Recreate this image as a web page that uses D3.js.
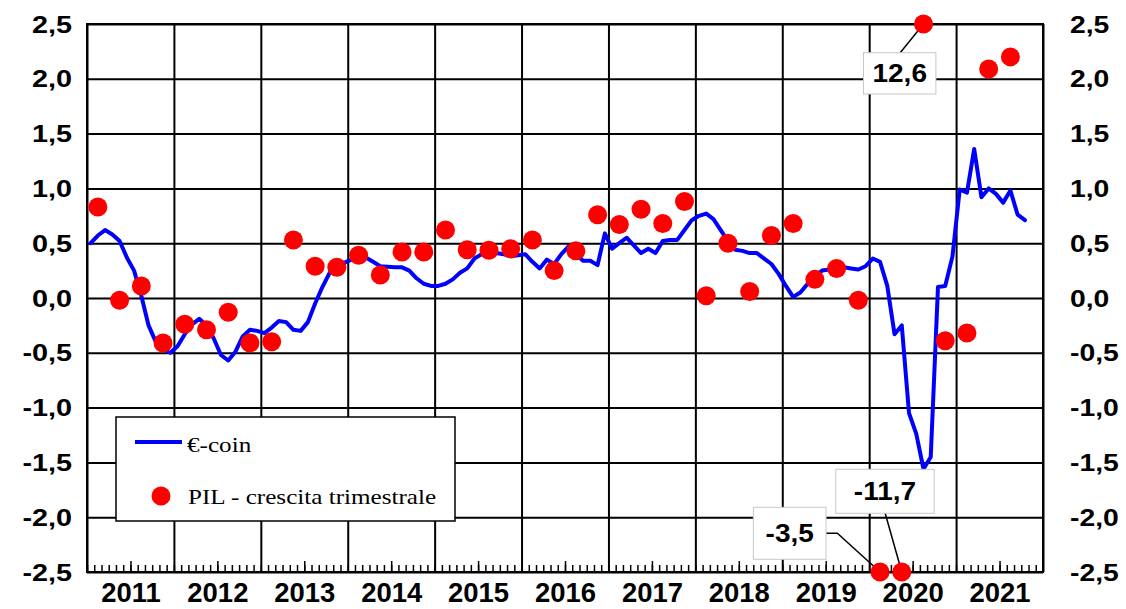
<!DOCTYPE html>
<html>
<head>
<meta charset="utf-8">
<script src="https://cdn.jsdelivr.net/npm/d3@7"></script>
<style>
  body { margin: 0; background: #fff; }
  svg { display: block; }
</style>
</head>
<body>
<div id="chart"></div>
<script>
// €-coin (monthly, Jan 2011 - Oct 2021)
var startYear = 2011;
var ecoin = [
  0.50, 0.57, 0.62, 0.58, 0.52, 0.37, 0.25, 0.02, -0.25, -0.40, -0.47, -0.50,
  -0.44, -0.33, -0.24, -0.19, -0.25, -0.37, -0.52, -0.57, -0.49, -0.35, -0.29, -0.30,
  -0.32, -0.27, -0.21, -0.22, -0.29, -0.30, -0.22, -0.05, 0.10, 0.23, 0.29, 0.32,
  0.35, 0.38, 0.37, 0.33, 0.29, 0.285, 0.28, 0.28, 0.25, 0.18, 0.13, 0.11,
  0.11, 0.13, 0.17, 0.23, 0.27, 0.36, 0.40, 0.41, 0.41, 0.40, 0.38, 0.39,
  0.40, 0.33, 0.27, 0.35, 0.31, 0.40, 0.47, 0.40, 0.34, 0.34, 0.30, 0.59,
  0.45, 0.50, 0.55, 0.48, 0.41, 0.45, 0.41, 0.52, 0.53, 0.53, 0.62, 0.71,
  0.75, 0.77, 0.72, 0.62, 0.52, 0.44, 0.43, 0.41, 0.41, 0.36, 0.31, 0.22,
  0.11, 0.01, 0.05, 0.13, 0.20, 0.25, 0.26, 0.27, 0.28, 0.27, 0.26, 0.29,
  0.36, 0.33, 0.11, -0.33, -0.25, -1.05, -1.24, -1.56, -1.45, 0.10, 0.11, 0.38,
  0.99, 0.96, 1.36, 0.92, 1.00, 0.95, 0.87, 0.98, 0.76, 0.71
];

// PIL - crescita trimestrale (Q1 2011 - Q3 2021)
var pil = [
  0.83, -0.02, 0.11, -0.41,
  -0.24, -0.29, -0.13, -0.41,
  -0.40, 0.53, 0.29, 0.28,
  0.39, 0.21, 0.42, 0.42,
  0.62, 0.44, 0.435, 0.45,
  0.53, 0.25, 0.43, 0.76,
  0.67, 0.81, 0.68, 0.88,
  0.02, 0.50, 0.06, 0.57,
  0.68, 0.17, 0.27, -0.02,
  -3.5, -11.7, 12.6, -0.39,
  -0.32, 2.09, 2.20
];

var years = d3.range(2011, 2022);               // year labels
var yTicks = d3.range(-2.5, 2.51, 0.5);         // value axis ticks
var legendLabels = ["€-coin", "PIL - crescita trimestrale"];

var W = 1126, H = 609;
var margin = {top: 24, right: 83, bottom: 37, left: 87};
var width = W - margin.left - margin.right,
    height = H - margin.top - margin.bottom;

var it = d3.formatLocale({decimal: ",", thousands: ".", grouping: [3], currency: ["", "€"], minus: "-"});
var fmt = it.format(".1f");

var svg = d3.select("#chart").append("svg")
    .attr("width", W).attr("height", H);
var g = svg.append("g")
    .attr("transform", "translate(" + margin.left + "," + margin.top + ")");

var x = d3.scaleLinear().domain([startYear, startYear + 11]).range([0, width]);
var y = d3.scaleLinear().domain([-2.5, 2.5]).range([height, 0]);
var yc = function(v) { return y(Math.max(-2.5, Math.min(2.5, v))); };

var monthX = function(i) { return startYear + (i + 0.5) / 12; };
var quarterX = function(q) { return startYear + (q * 3 + 1.5) / 12; };

// text stretched horizontally like the original picture
function stretch(sel, sx) {
  sel.each(function() {
    var t = d3.select(this);
    var x0 = +t.attr("x") || 0;
    t.attr("x", x0 / sx).attr("transform", "scale(" + sx + ",1)");
  });
}

// horizontal grid + left labels
var yl = g.append("g")
    .call(d3.axisLeft(y).tickValues(yTicks).tickSize(-width).tickPadding(15).tickFormat(fmt));
yl.select(".domain").remove();
yl.selectAll(".tick line").attr("stroke", "#000").attr("stroke-width", 2);
yl.selectAll(".tick text")
    .attr("font-family", "Liberation Sans, Arial, sans-serif")
    .attr("font-size", 24).attr("font-weight", "bold").attr("fill", "#000")
    .attr("dy", "0.34em");
stretch(yl.selectAll(".tick text"), 1.2);

// right labels
var yr = g.append("g")
    .attr("transform", "translate(" + width + ",0)")
    .call(d3.axisRight(y).tickValues(yTicks).tickSize(0).tickPadding(27).tickFormat(fmt));
yr.select(".domain").remove();
yr.selectAll(".tick text")
    .attr("font-family", "Liberation Sans, Arial, sans-serif")
    .attr("font-size", 24).attr("font-weight", "bold").attr("fill", "#000")
    .attr("dy", "0.34em");
stretch(yr.selectAll(".tick text"), 1.18);

// vertical grid at year boundaries
var xg = g.append("g")
    .attr("transform", "translate(0," + height + ")")
    .call(d3.axisBottom(x).tickValues(d3.range(2011, 2023)).tickSize(-height).tickFormat(""));
xg.select(".domain").remove();
xg.selectAll(".tick line").attr("stroke", "#000").attr("stroke-width", 2);

// monthly minor ticks and taller mid-year ticks
var monthTicks = d3.range(0, 132).map(function(i) { return startYear + i / 12; });
var xm = g.append("g")
    .attr("transform", "translate(0," + height + ")")
    .call(d3.axisBottom(x).tickValues(monthTicks).tickSize(-7).tickFormat(""));
xm.select(".domain").remove();
xm.selectAll(".tick line").attr("stroke", "#000").attr("stroke-width", 1.5);

var xl = g.append("g")
    .attr("transform", "translate(0," + height + ")")
    .call(d3.axisBottom(x).tickValues(years.map(function(d) { return d + 0.5; }))
      .tickSize(-11).tickFormat(function(d) { return String(Math.floor(d)); }));
xl.select(".domain").remove();
xl.selectAll(".tick line").attr("stroke", "#000").attr("stroke-width", 1.5);
xl.selectAll(".tick text")
    .attr("font-family", "Liberation Sans, Arial, sans-serif")
    .attr("font-size", 28).attr("font-weight", "bold").attr("fill", "#000")
    .attr("y", 30.5).attr("dy", 0);
stretch(xl.selectAll(".tick text"), 0.98);

// plot border
g.append("rect")
    .attr("width", width).attr("height", height)
    .attr("fill", "none").attr("stroke", "#000").attr("stroke-width", 2);

// legend
var lg = svg.append("g");
lg.append("rect")
    .attr("x", 116).attr("y", 417).attr("width", 339).attr("height", 104)
    .attr("fill", "#fff").attr("stroke", "#000").attr("stroke-width", 1.5);
lg.append("line")
    .attr("x1", 135).attr("x2", 182).attr("y1", 442).attr("y2", 442)
    .attr("stroke", "#0000ff").attr("stroke-width", 4);
lg.append("circle").attr("cx", 161).attr("cy", 496).attr("r", 9.5).attr("fill", "#ff0000");
lg.selectAll("text.leg").data(legendLabels).enter().append("text")
    .attr("class", "leg")
    .attr("transform", function(d, i) { return "translate(" + (i ? 188 : 187) + "," + (i ? 504 : 452) + ") scale(1.17,1)"; })
    .attr("font-family", "Liberation Serif, Times New Roman, serif")
    .attr("font-size", 21.5).attr("fill", "#000")
    .text(function(d) { return d; });

// €-coin line
var line = d3.line()
    .x(function(d, i) { return x(monthX(i)); })
    .y(function(d) { return y(d); });
g.append("path")
    .datum(ecoin)
    .attr("d", line)
    .attr("fill", "none").attr("stroke", "#0000ff")
    .attr("stroke-width", 4).attr("stroke-linejoin", "round").attr("stroke-linecap", "round");

// callouts for out-of-range quarters (box relative to the dot)
var callouts = {
  36: {box: [-126.7, -64.7, 72.7, 52], path: [[-54, -38.7], [-42.7, -38.7], [0, 0]]},
  37: {box: [-66, -102.7, 98.4, 44], path: [[-16.6, -58.7], [0, 0]]},
  38: {box: [-60, 28.7, 72.4, 41.3], path: [[-23.3, 28.7], [0, 0]]}
};
var out = pil.map(function(v, q) { return {v: v, q: q}; })
    .filter(function(d) { return d.v > 2.5 || d.v < -2.5; });
var cg = g.selectAll("g.callout").data(out).enter().append("g")
    .attr("class", "callout")
    .attr("transform", function(d) { return "translate(" + x(quarterX(d.q)) + "," + yc(d.v) + ")"; });
cg.append("path")
    .attr("d", function(d) { return d3.line()(callouts[d.q].path); })
    .attr("fill", "none").attr("stroke", "#000").attr("stroke-width", 1.5);
cg.append("rect")
    .attr("x", function(d) { return callouts[d.q].box[0]; })
    .attr("y", function(d) { return callouts[d.q].box[1]; })
    .attr("width", function(d) { return callouts[d.q].box[2]; })
    .attr("height", function(d) { return callouts[d.q].box[3]; })
    .attr("fill", "#fff").attr("stroke", "#c8c8c8").attr("stroke-width", 1);
cg.append("text")
    .attr("transform", function(d) {
      var b = callouts[d.q].box;
      return "translate(" + (b[0] + b[2] / 2) + "," + (b[1] + b[3] / 2) + ") scale(1.12,1)";
    })
    .attr("text-anchor", "middle").attr("dy", "0.36em")
    .attr("font-family", "Liberation Sans, Arial, sans-serif")
    .attr("font-size", 25).attr("font-weight", "bold").attr("fill", "#000")
    .text(function(d) { return fmt(d.v); });

// PIL dots
g.selectAll("circle.pil").data(pil).enter().append("circle")
    .attr("class", "pil")
    .attr("cx", function(d, i) { return x(quarterX(i)); })
    .attr("cy", function(d) { return yc(d); })
    .attr("r", 9.5)
    .attr("fill", "#ff0000");
</script>
</body>
</html>
